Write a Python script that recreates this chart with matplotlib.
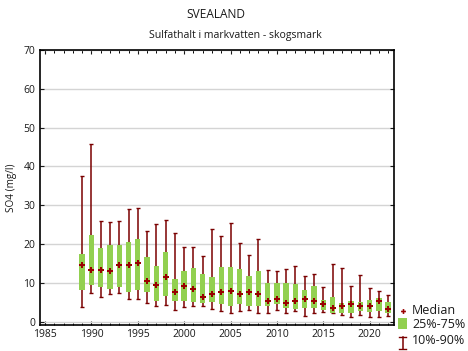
import matplotlib
matplotlib.use("Agg")
import matplotlib.pyplot as plt
from matplotlib.lines import Line2D
from matplotlib.patches import Rectangle
from matplotlib.ticker import MultipleLocator
import numpy as np

plt.rcParams['font.family'] = ['Open Sans', 'DejaVu Sans']

years = list(range(1989, 2023))
p90 = [37.5, 45.7, 25.9, 25.6, 25.9, 29.0, 29.2, 23.3, 25.1, 26.1, 22.8, 19.2,
       19.2, 16.8, 23.8, 22.0, 25.4, 20.2, 17.1, 21.2, 13.2, 13.0, 13.5, 14.3,
       11.7, 12.2, 8.8, 14.8, 13.8, 9.1, 12.0, 8.6, 7.8, 6.8]
p75 = [17.4, 22.3, 19.0, 19.8, 19.8, 20.5, 21.3, 16.7, 14.4, 18.0, 11.0, 13.1,
       13.8, 12.3, 11.5, 14.1, 14.1, 13.6, 11.8, 13.1, 10.0, 10.0, 10.0, 9.7,
       8.2, 9.2, 5.6, 6.4, 4.9, 5.3, 5.1, 5.6, 6.1, 5.1]
median = [14.6, 13.3, 13.3, 13.1, 14.6, 14.6, 15.1, 10.5, 9.5, 11.6, 7.7, 9.2,
          8.4, 6.4, 7.1, 7.7, 7.9, 7.2, 7.7, 7.0, 5.2, 5.7, 4.9, 5.4,
          5.7, 5.4, 4.6, 3.6, 4.1, 4.6, 4.1, 3.9, 5.2, 3.1]
p25 = [8.2, 9.5, 8.8, 8.5, 9.0, 7.7, 8.0, 7.7, 5.4, 6.7, 5.2, 5.4,
       5.1, 4.8, 5.1, 4.6, 4.0, 4.6, 4.1, 3.9, 3.9, 4.4, 3.4, 3.1,
       3.6, 3.4, 2.9, 2.3, 2.3, 2.3, 2.8, 2.4, 2.8, 2.1]
p10 = [3.7, 7.3, 6.3, 7.0, 7.3, 5.8, 5.8, 4.7, 4.0, 4.2, 2.9, 3.7,
       4.0, 3.9, 3.2, 2.7, 2.2, 2.7, 3.0, 2.2, 2.2, 3.0, 2.2, 2.7,
       1.4, 2.2, 2.4, 2.2, 1.6, 1.1, 1.6, 1.1, 1.1, 1.4]

title = "SVEALAND"
subtitle = "Sulfathalt i markvatten - skogsmark"
ylabel = "SO4 (mg/l)"
legend_labels = ["Median", "25%-75%", "10%-90%"]

GREEN = '#92D050'
WHISK = '#7A0000'
MED = '#990000'
TXT = '#1a1a1a'

W, H = 468, 351
fig = plt.figure(figsize=(W / 100, H / 100), dpi=100)
ax = fig.add_axes([39.5 / W, 1 - 325 / H, (393.7 - 39.5) / W, (325 - 50) / H])

y = np.array(years)
med = np.array(median)
lo = med - np.array(p10)
hi = np.array(p90) - med
ax.errorbar(y, med, yerr=[lo, hi], fmt='none', ecolor=WHISK, elinewidth=1.1,
            capsize=1.4, capthick=1.0, zorder=2)
ax.bar(y, np.array(p75) - np.array(p25), bottom=p25, width=0.58,
       color=GREEN, edgecolor='none', zorder=3)
ax.plot(y, med, linestyle='none', marker='P', markersize=4.4, color=MED,
        markeredgewidth=0, zorder=4)

ax.set_xlim(1984.4, 2022.6)
ax.set_ylim(-0.9, 70)
ax.yaxis.set_major_locator(MultipleLocator(10))
ax.xaxis.set_major_locator(MultipleLocator(5))
ax.xaxis.set_minor_locator(MultipleLocator(1))
ax.grid(axis='y', color='#d4d4d4', linewidth=1.0, zorder=0)
ax.set_axisbelow(True)
for s in ax.spines.values():
    s.set_linewidth(1.2)
    s.set_color('black')
ax.tick_params(axis='both', which='major', direction='in', length=3, width=0.8,
               top=True, right=True, labelsize=7.5, colors=TXT, pad=3)
ax.tick_params(axis='x', which='minor', direction='in', length=1.8, width=0.7,
               top=True)
ax.tick_params(axis='y', which='minor', left=False, right=False)

ax.set_ylabel(ylabel, fontsize=7.2, color=TXT, labelpad=5)

fig.text(216 / W, 1 - 15 / H, title, ha='center', va='center', fontsize=8.6, color=TXT)
fig.text(235 / W, 1 - 35.5 / H, subtitle, ha='center', va='center', fontsize=7.6, color=TXT)

# Legend
lx = 402.5 / W
tx = 412 / W
rows = [310.7, 325, 340.7]
fig.add_artist(Line2D([lx], [1 - rows[0] / H], marker='P', markersize=3.5,
                      color=MED, markeredgewidth=0, linestyle='none'))
fig.add_artist(Rectangle(((398) / W, 1 - 329 / H), 9 / W, 11 / H,
                         facecolor=GREEN, edgecolor='none'))
fig.add_artist(Line2D([lx, lx], [1 - 336.5 / H, 1 - 349 / H], color=WHISK, linewidth=1.1))
fig.add_artist(Line2D([lx - 3.5 / W, lx + 3.5 / W], [1 - 336.5 / H] * 2, color=WHISK, linewidth=1.0))
fig.add_artist(Line2D([lx - 3.5 / W, lx + 3.5 / W], [1 - 349 / H] * 2, color=WHISK, linewidth=1.0))
for lab, r in zip(legend_labels, rows):
    fig.text(tx, 1 - r / H, lab, ha='left', va='center', fontsize=9.0, color=TXT)

fig.savefig('out.png', dpi=100)
